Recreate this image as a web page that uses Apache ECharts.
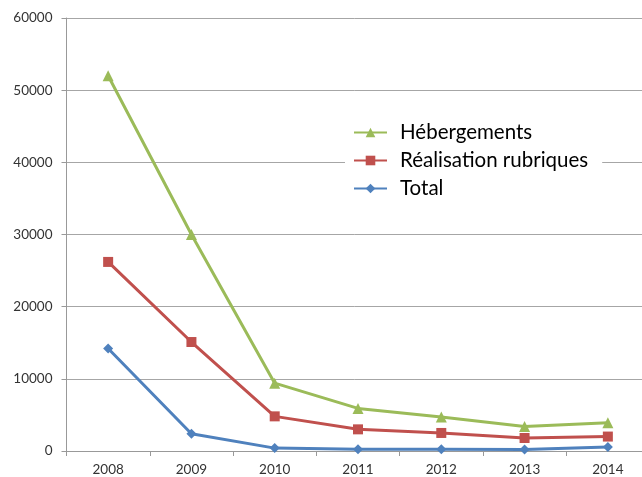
<!DOCTYPE html>
<html>
<head>
<meta charset="utf-8">
<script src="https://cdn.jsdelivr.net/npm/echarts@6/dist/echarts.min.js"></script>
<style>html,body{margin:0;padding:0;background:#fff}#c{width:642px;height:477px}</style>
</head>
<body>
<div id="c"></div>
<script>
var categories = ['2008','2009','2010','2011','2012','2013','2014'];
var hebergements = [52000, 30000, 9400, 5900, 4700, 3400, 3900];
var realisation = [26200, 15100, 4800, 3000, 2500, 1800, 2000];
var total = [14200, 2400, 400, 250, 250, 200, 550];
var yTicks = [0, 10000, 20000, 30000, 40000, 50000, 60000];

var chart = echarts.init(document.getElementById('c'), null, {renderer:'canvas'});
var font = 'Lato, "Open Sans", sans-serif';
chart.setOption({
  animation: false,
  backgroundColor: '#fff',
  grid: {left: 66.5, width: 583, top: 18, bottom: 26, containLabel: false, outerBoundsMode: 'none'},
  legend: {
    orient: 'vertical',
    left: 345, top: 120,
    itemWidth: 33, itemHeight: 12, itemGap: 7,
    backgroundColor: '#fff',
    padding: [2, 14, 2, 8],
    textStyle: {fontFamily: font, fontSize: 20.5, lineHeight: 20, color: '#000', padding: [0, 0, 0, 8]},
    data: ['Hébergements', 'Réalisation rubriques', 'Total']
  },
  xAxis: {
    type: 'category', data: categories, boundaryGap: true,
    axisLine: {lineStyle: {color: '#999', width: 1}},
    axisTick: {show: true, inside: false, length: 5, alignWithLabel: false, lineStyle: {color: '#999'}},
    axisLabel: {fontFamily: font, fontSize: 13.5, color: '#333', margin: 12}
  },
  yAxis: {
    type: 'value', min: yTicks[0], max: yTicks[yTicks.length-1], interval: 10000,
    axisLine: {show: true, lineStyle: {color: '#999', width: 1}},
    axisTick: {show: true, length: 5, lineStyle: {color: '#999'}},
    axisLabel: {fontFamily: font, fontSize: 13.5, color: '#333', margin: 14,
      formatter: function (v) { return String(v); }},
    splitLine: {lineStyle: {color: '#a6a6a6', width: 1}}
  },
  series: [
    {name: 'Hébergements', type: 'line', data: hebergements, color: '#9BBB59',
     symbol: 'triangle', symbolSize: 11, lineStyle: {width: 3}, itemStyle: {color: '#9BBB59'}},
    {name: 'Réalisation rubriques', type: 'line', data: realisation, color: '#C0504D',
     symbol: 'rect', symbolSize: 10, lineStyle: {width: 3}, itemStyle: {color: '#C0504D'}},
    {name: 'Total', type: 'line', data: total, color: '#4F81BD',
     symbol: 'diamond', symbolSize: 10, lineStyle: {width: 3}, itemStyle: {color: '#4F81BD'}}
  ]
});
</script>
</body>
</html>
